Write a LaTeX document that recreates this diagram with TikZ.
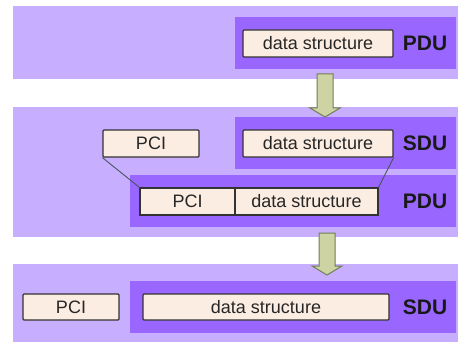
\documentclass[tikz,border=0pt]{standalone}
\usepackage{fontspec}
\setmainfont{Liberation Sans}
\usetikzlibrary{calc}
\definecolor{bandc}{HTML}{C8AEFF}
\definecolor{darkc}{HTML}{9966FF}
\definecolor{boxc}{HTML}{FCEDE2}
\definecolor{boxline}{HTML}{333333}
\definecolor{arrowc}{HTML}{CDD3A2}
\definecolor{arrowline}{HTML}{6E7F55}
\definecolor{linkc}{HTML}{4A5560}
\tikzset{
  band/.style={draw=none, fill=bandc, inner sep=0pt},
  darkbox/.style={draw=none, fill=darkc, inner sep=0pt},
  databox/.style={draw=boxline, fill=boxc, line width=1.2pt, rounded corners=1pt,
    inner sep=0pt, minimum height=27pt, text=black!85, font=\fontsize{18}{20}\selectfont},
  tag/.style={inner sep=0pt, font=\fontsize{21}{24}\selectfont\bfseries, text=black!90},
  link/.style={draw=linkc, line width=0.9pt},
  blockarrow/.style={fill=arrowc, draw=arrowline, line width=1pt, line join=miter}
}
\begin{document}
\begin{tikzpicture}[x=1pt,y=-1pt]
\useasboundingbox (0,0) rectangle (460,342);
% bands
\node[band, minimum width=445pt, minimum height=73pt] (b1) at (235.5,42.5) {};
\node[band, minimum width=445pt, minimum height=130pt] (b2) at (235.5,172) {};
\node[band, minimum width=445pt, minimum height=78pt] (b3) at (235.5,303) {};
% dark regions
\node[darkbox, minimum width=221pt, minimum height=52pt] (d1) at (345.5,43) {};
\node[darkbox, minimum width=221pt, minimum height=52pt] (d2) at (345.5,143) {};
\node[darkbox, minimum width=326pt, minimum height=52pt] (d3) at (293,201) {};
\node[darkbox, minimum width=326pt, minimum height=52pt] (d4) at (293,307) {};
% arrows
\coordinate (a1s) at (325,74);
\coordinate (a1e) at (325,117);
\coordinate (a2s) at (327,233);
\coordinate (a2e) at (327,275);
\draw[blockarrow] ($(a1s)+(-8,0)$) -- ($(a1s)+(8,0)$) -- ($(a1e)+(8,-9)$) -- ($(a1e)+(15,-9)$)
  -- (a1e) -- ($(a1e)+(-15,-9)$) -- ($(a1e)+(-8,-9)$) -- cycle;
\draw[blockarrow] ($(a2s)+(-8,0)$) -- ($(a2s)+(8,0)$) -- ($(a2e)+(8,-9)$) -- ($(a2e)+(15,-9)$)
  -- (a2e) -- ($(a2e)+(-15,-9)$) -- ($(a2e)+(-8,-9)$) -- cycle;
% row 1
\node[databox, minimum width=150pt] (ds1) at (318,43.5) {data structure};
\node[tag] (l1) at (425,43) {PDU};
% row 2
\node[databox, minimum width=96pt] (pci2) at (151,143.5) {PCI};
\node[databox, minimum width=150pt] (ds2) at (318,143.5) {data structure};
\node[tag] (l2) at (425,143) {SDU};
\node[databox, minimum width=95pt, rounded corners=0pt] (pci3) at (187.5,201.5) {PCI};
\node[databox, minimum width=143pt, rounded corners=0pt] (ds3) at (306.5,201.5) {data structure};
\draw[boxline, line width=1.2pt] (pci3.north west) rectangle (ds3.south east);
\node[tag] (l3) at (425,201) {PDU};
\draw[link] (pci2.south west) -- (pci3.north west);
\draw[link] (ds2.south east) -- (ds3.north east);
% row 3
\node[databox, minimum width=96pt, minimum height=26pt] (pci4) at (71,307) {PCI};
\node[databox, minimum width=246pt, minimum height=26pt] (ds4) at (266,307) {data structure};
\node[tag] (l4) at (425,307) {SDU};
\end{tikzpicture}
\end{document}
